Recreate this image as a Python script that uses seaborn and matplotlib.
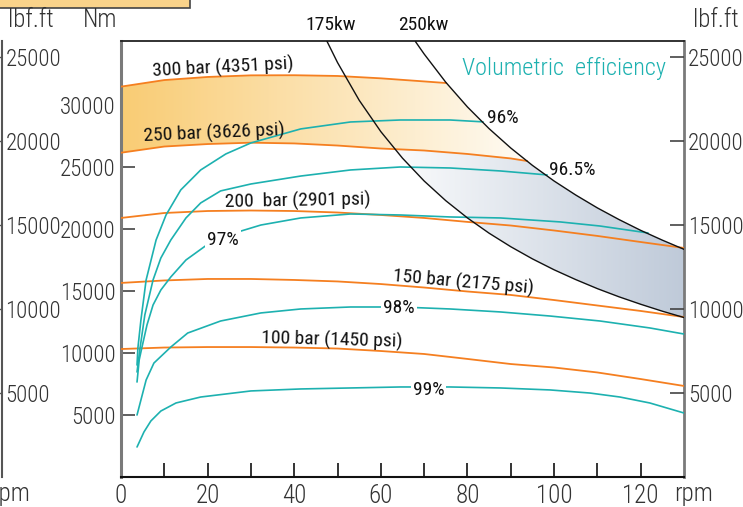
import numpy as np
import matplotlib
matplotlib.use("Agg")
import matplotlib.pyplot as plt
from matplotlib.patches import Polygon, Rectangle
from matplotlib.colors import to_rgb
import seaborn as sns

# ---- data (rpm vs torque in Nm) ----
rpm_grid = [0, 10, 20, 30, 40, 50, 60, 70, 80, 90, 100, 110, 120, 130]

p300_rpm = [0, 10, 20, 30, 40, 50, 60, 70, 75.1]
p300_nm = [31480, 32010, 32260, 32390, 32400, 32340, 32150, 31900, 31770]

p250_rpm = [0, 10, 20, 30, 40, 50, 60, 70, 80, 90, 93.8]
p250_nm = [26150, 26650, 26850, 26960, 26900, 26730, 26490, 26330, 26050, 25690, 25480]

p200_nm = [20890, 21290, 21450, 21490, 21450, 21330, 21130, 20890, 20570, 20280, 19880, 19440, 18950, 18470]
p150_nm = [15650, 15850, 15970, 15970, 15890, 15770, 15560, 15280, 14960, 14680, 14270, 13830, 13390, 12900]
p100_nm = [10320, 10440, 10480, 10480, 10440, 10360, 10160, 9920, 9520, 9110, 8830, 8430, 7900, 7340]

# volumetric efficiency iso-lines
e96_rpm = [3.7, 3.9, 4.6, 5.8, 8.1, 10.4, 13.8, 18.4, 24.2, 30.0, 41.5, 53.0, 64.5, 76.0, 83.6]
e96_nm = [9030, 10400, 12660, 15890, 19110, 21130, 23150, 24760, 26050, 26940, 28070, 28630, 28790, 28790, 28640]

e965_rpm = [3.7, 4.4, 5.5, 7.4, 9.2, 11.5, 15.0, 18.4, 23.0, 30.0, 41.5, 53.0, 64.5, 76.0, 87.6, 98.4]
e965_nm = [8470, 10400, 13070, 15890, 17660, 19110, 20890, 22100, 23070, 23630, 24270, 24760, 25000, 24920, 24680, 24360]

e97_rpm = [3.7, 4.2, 4.8, 6.0, 7.4, 9.2, 11.5, 15.0, 19.8, 23.5, 27.0, 32.3, 41.5, 53.0, 64.5, 76.0,
           87.6, 101.4, 110.6, 121.7]
e97_nm = [7660, 9440, 10400, 12260, 13870, 15080, 16130, 17500, 18710, 19270, 19760, 20320, 20890, 21210,
          21130, 20970, 20890, 20570, 20240, 19680]

e98_rpm = [3.7, 4.6, 5.8, 7.6, 11.5, 15.4, 23.0, 32.3, 41.5, 53.0, 64.5, 76.0, 87.6, 99.1, 110.6, 122.1, 130]
e98_nm = [5000, 6210, 7820, 9190, 10480, 11610, 12580, 13230, 13550, 13710, 13710, 13550, 13310, 12980,
          12580, 12020, 11530]

e99_rpm = [3.7, 5.3, 6.9, 9.2, 12.7, 18.4, 30.0, 41.5, 53.0, 64.5, 76.0, 87.6, 99.1, 108.3, 115.2, 122.1, 130]
e99_nm = [2420, 3630, 4520, 5320, 5970, 6450, 6940, 7100, 7180, 7260, 7260, 7180, 7020, 6770, 6450, 5970, 5160]

# constant power curves
kw175_rpm = [47.5, 50, 55, 60, 65, 70, 75, 80, 85, 90, 95, 100, 105, 110, 115, 120, 125, 130]
kw175_nm = [35180, 33420, 30380, 27850, 25710, 23870, 22280, 20890, 19660, 18570, 17590, 16710, 15920,
            15190, 14530, 13930, 13370, 12860]
kw250_rpm = [68, 70, 75, 80, 85, 90, 95, 100, 105, 110, 115, 120, 125, 130]
kw250_nm = [35110, 34110, 31830, 29840, 28090, 26530, 25130, 23870, 22740, 21700, 20760, 19890, 19100, 18360]

nm_ticks = [5000, 10000, 15000, 20000, 25000, 30000]
lbf_ticks = [5000, 10000, 15000, 20000, 25000]
rpm_ticks = [0, 20, 40, 60, 80, 100, 120]

NM_PER_LBFT = 1.355818
YMAX = 35160
ORANGE = "#F57F20"
TEAL = "#1DB1B0"
GREY = "#7a7a7a"
TXT = "#333333"
FS = 16.5
HFS = 18
LFS = 14

sns.set_style("white")
plt.rcParams["font.family"] = ["Roboto Condensed", "Liberation Sans", "DejaVu Sans"]
plt.rcParams["font.weight"] = "light"

fig = plt.figure(figsize=(7.43, 5.07), dpi=100)
ax = fig.add_axes([121 / 743, 30 / 507, 563 / 743, 436 / 507])


def hgrad(c0, c1, n=256):
    a, b = np.array(to_rgb(c0)), np.array(to_rgb(c1))
    t = np.linspace(0, 1, n)[None, :, None]
    return np.broadcast_to(a + (b - a) * t, (2, n, 3)).copy()


# shaded regions
xs = np.linspace(0, 130, 1301)
far = 1e9
up_o = np.minimum(np.interp(xs, p300_rpm, p300_nm), np.interp(xs, kw250_rpm, kw250_nm, left=far))
lo_o = np.interp(xs, p250_rpm, p250_nm)
m = (xs <= p250_rpm[-1]) & (up_o >= lo_o)
verts = np.vstack([np.c_[xs[m], up_o[m]], np.c_[xs[m], lo_o[m]][::-1]])
poly_o = Polygon(verts, closed=True, fc="none", ec="none", transform=ax.transData)
ax.add_patch(poly_o)
im = ax.imshow(hgrad("#F9CC74", "#FFFFFF"), extent=[0, 102, 24000, 34000], aspect="auto",
               origin="lower", zorder=1, interpolation="bilinear")
im.set_clip_path(poly_o)

up_b = np.minimum(np.interp(xs, p250_rpm, p250_nm), np.interp(xs, kw250_rpm, kw250_nm, left=far))
lo_b = np.interp(xs, kw175_rpm, kw175_nm, left=far)
m = up_b > lo_b
verts = np.vstack([np.c_[xs[m], up_b[m]], np.c_[xs[m], lo_b[m]][::-1]])
poly_b = Polygon(verts, closed=True, fc="none", ec="none", transform=ax.transData)
ax.add_patch(poly_b)
im = ax.imshow(hgrad("#FFFFFF", "#BFCAD9"), extent=[58, 130, 12000, 27000], aspect="auto",
               origin="lower", zorder=1, interpolation="bilinear")
im.set_clip_path(poly_b)

# pressure lines
for xv, yv in [(p300_rpm, p300_nm), (p250_rpm, p250_nm), (rpm_grid, p200_nm),
               (rpm_grid, p150_nm), (rpm_grid, p100_nm)]:
    sns.lineplot(x=xv, y=yv, ax=ax, color=ORANGE, linewidth=1.3, sort=False, estimator=None, zorder=3)

# efficiency lines
for xv, yv in [(e96_rpm, e96_nm), (e965_rpm, e965_nm), (e97_rpm, e97_nm),
               (e98_rpm, e98_nm), (e99_rpm, e99_nm)]:
    sns.lineplot(x=xv, y=yv, ax=ax, color=TEAL, linewidth=1.2, sort=False, estimator=None, zorder=4)

# power curves
for xv, yv in [(kw175_rpm, kw175_nm), (kw250_rpm, kw250_nm)]:
    sns.lineplot(x=xv, y=yv, ax=ax, color="#111111", linewidth=1.0, sort=False, estimator=None, zorder=5)

ax.set_xlim(0, 130)
ax.set_ylim(0, YMAX)
ax.set_xlabel("")
ax.set_ylabel("")

# line labels
lab = dict(fontsize=LFS, fontweight="normal", color="#111111", ha="center", va="center",
           rotation_mode="anchor", zorder=6)
ax.text(23.5, 32980, "300 bar (4351 psi)", rotation=3, **lab)
ax.text(21.4, 27740, "250 bar (3626 psi)", rotation=2.5, **lab)
ax.text(40.8, 22260, "200  bar (2901 psi)", rotation=1, **lab)
ax.text(79.0, 15650, "150 bar (2175 psi)", rotation=-5, **lab)
ax.text(48.8, 11050, "100 bar (1450 psi)", rotation=-1.5, **lab)

box = dict(fc="white", ec="none", pad=1.5)
ax.text(88.2, 28950, "96%", **lab)
ax.text(104.1, 24760, "96.5%", **lab)
ax.text(23.5, 19110, "97%", bbox=box, **lab)
ax.text(64.1, 13630, "98%", bbox=box, **lab)
ax.text(71.0, 7020, "99%", bbox=box, **lab)
ax.text(48.4, 36450, "175kw", **lab)
ax.text(69.8, 36450, "250kw", **lab)
ax.text(102.3, 32980, "Volumetric  efficiency", fontsize=17.5, color=TEAL, ha="center", va="center")

# main axes styling
ax.set_xticks(rpm_ticks)
ax.set_xticks([10, 30, 50, 70, 90, 110], minor=True)
ax.set_xticklabels([str(v) for v in rpm_ticks])
ax.set_yticks(nm_ticks)
ax.set_yticklabels([str(v) for v in nm_ticks])
ax.tick_params(axis="x", which="both", direction="in", length=10, width=1.2, color="#111111",
               labelsize=HFS, labelcolor=TXT, pad=5, bottom=True)
ax.tick_params(axis="y", direction="in", length=10, width=1.2, color="#444444",
               labelsize=FS, labelcolor=TXT, pad=4, left=True)
ax.spines["left"].set_color(GREY)
ax.spines["left"].set_linewidth(2.2)
ax.spines["right"].set_color(GREY)
ax.spines["right"].set_linewidth(2.0)
ax.spines["top"].set_color("#222222")
ax.spines["top"].set_linewidth(1.3)
ax.spines["bottom"].set_color("#111111")
ax.spines["bottom"].set_linewidth(1.5)

# right lbf.ft axis
ax_r = ax.twinx()
ax_r.set_ylim(0, YMAX / NM_PER_LBFT)
ax_r.set_yticks(lbf_ticks)
ax_r.set_yticklabels([str(v) for v in lbf_ticks])
for s in ax_r.spines.values():
    s.set_visible(False)
ax_r.tick_params(axis="y", direction="in", length=10, width=1.2, color="#444444",
                 labelsize=FS, labelcolor=TXT, pad=3, right=True)

# far-left lbf.ft axis (neighbouring panel)
ax_f = ax.twinx()
ax_f.set_ylim(0, YMAX / NM_PER_LBFT)
ax_f.set_yticks(lbf_ticks)
ax_f.set_yticklabels([str(v) for v in lbf_ticks])
for k, s in ax_f.spines.items():
    s.set_visible(k == "right")
ax_f.spines["right"].set_position(("axes", (2.5 - 121) / 563))
ax_f.spines["right"].set_color("#555555")
ax_f.spines["right"].set_linewidth(1.5)
ax_f.tick_params(axis="y", direction="in", length=3, width=1.0, color="#555555",
                 labelsize=FS, labelcolor=TXT, pad=2, right=True)

# figure texts
fig.text(31 / 743, 1 - 20 / 507, "lbf.ft", fontsize=HFS, color=TXT, ha="center", va="center")
fig.text(100 / 743, 1 - 20 / 507, "Nm", fontsize=HFS, color=TXT, ha="center", va="center")
fig.text(716 / 743, 1 - 20 / 507, "lbf.ft", fontsize=HFS, color=TXT, ha="center", va="center")
fig.text(694 / 743, 1 - 494 / 507, "rpm", fontsize=HFS, color=TXT, ha="center", va="center")
fig.text(30 / 743, 1 - 494 / 507, "rpm", fontsize=HFS, color=TXT, ha="right", va="center")
fig.patches.append(Rectangle((-5 / 743, 1 - 8 / 507), 195 / 743, 20 / 507, transform=fig.transFigure,
                             fc="#FAD38A", ec="#444444", lw=1.2))

fig.savefig("out.png", dpi=100)
